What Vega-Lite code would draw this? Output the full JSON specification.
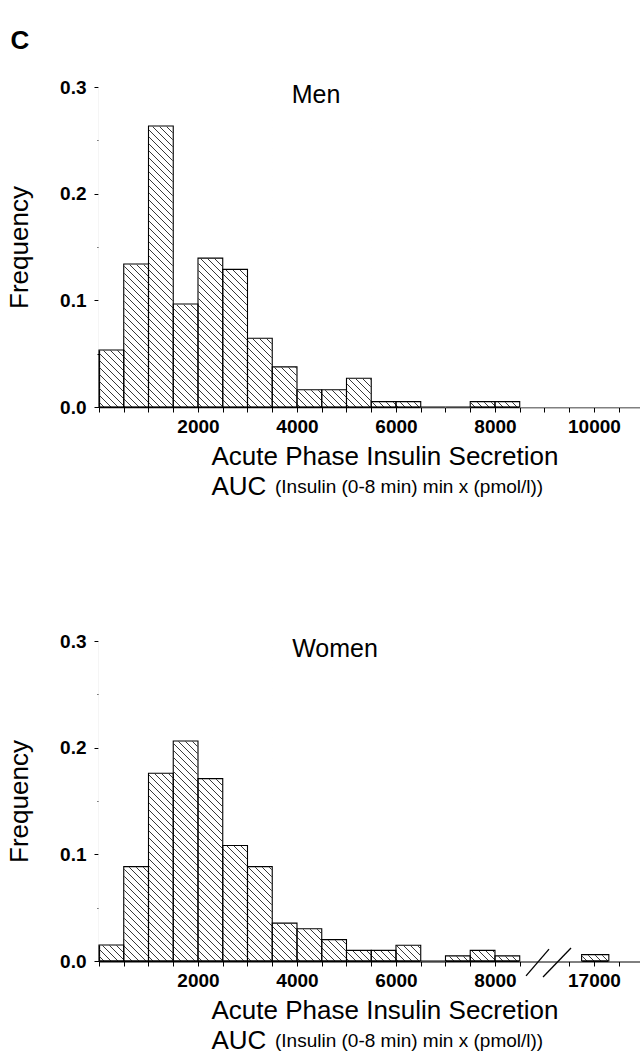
{
  "$schema": "https://vega.github.io/schema/vega-lite/v6.json",
  "background": "white",
  "padding": {"left": 6, "top": 28, "right": 0, "bottom": 0},
  "title": {"text": "C", "anchor": "start", "frame": "bounds", "fontSize": 26, "fontWeight": "bold", "font": "Liberation Sans", "color": "#000", "offset": 24, "dx": 4},
  "spacing": 234,
  "bounds": "flush",
  "config": {
    "view": {"stroke": null},
    "axis": {"zindex": 1, "grid": false, "domainColor": "#000", "tickColor": "#000", "labelColor": "#000", "titleColor": "#000", "labelFont": "Liberation Sans", "titleFont": "Liberation Sans", "titleFontWeight": "normal", "labelFontWeight": "bold", "labelFontSize": 19, "titleFontSize": 26, "labelOverlap": false, "labelFlush": false, "tickCount": 100},
    "point": {"shape": "M-5.95,-1.62l3.24,3.24m-3.17,-3.24l3.24,3.24m-3.17,-3.24l3.24,3.24m-3.17,-3.24l3.24,3.24m-3.17,-3.24l3.24,3.24m-3.17,-3.24l3.24,3.24m-3.17,-3.24l3.24,3.24m-3.17,-3.24l3.24,3.24m-3.17,-3.24l3.24,3.24m-3.17,-3.24l3.24,3.24m-3.17,-3.24l3.24,3.24m-3.17,-3.24l3.24,3.24m-3.17,-3.24l3.24,3.24m-3.17,-3.24l3.24,3.24m-3.17,-3.24l3.24,3.24m-3.17,-3.24l3.24,3.24m-3.17,-3.24l3.24,3.24m-3.17,-3.24l3.24,3.24m-3.17,-3.24l3.24,3.24m-3.17,-3.24l3.24,3.24m-3.17,-3.24l3.24,3.24m-3.17,-3.24l3.24,3.24m-3.17,-3.24l3.24,3.24m-3.17,-3.24l3.24,3.24m-3.17,-3.24l3.24,3.24m-3.17,-3.24l3.24,3.24m-3.17,-3.24l3.24,3.24m-3.17,-3.24l3.24,3.24m-3.17,-3.24l3.24,3.24m-3.17,-3.24l3.24,3.24m-3.17,-3.24l3.24,3.24m-3.17,-3.24l3.24,3.24m-3.17,-3.24l3.24,3.24m-3.17,-3.24l3.24,3.24m-3.17,-3.24l3.24,3.24m-3.17,-3.24l3.24,3.24m-3.17,-3.24l3.24,3.24m-3.17,-3.24l3.24,3.24m-3.17,-3.24l3.24,3.24m-3.17,-3.24l3.24,3.24m-3.17,-3.24l3.24,3.24m-3.17,-3.24l3.24,3.24m-3.17,-3.24l3.24,3.24m-3.17,-3.24l3.24,3.24m-3.17,-3.24l3.24,3.24m-3.17,-3.24l3.24,3.24m-3.17,-3.24l3.24,3.24m-3.17,-3.24l3.24,3.24m-3.17,-3.24l3.24,3.24m-3.17,-3.24l3.24,3.24m-3.17,-3.24l3.24,3.24m-3.17,-3.24l3.24,3.24m-3.17,-3.24l3.24,3.24m-3.17,-3.24l3.24,3.24m-3.17,-3.24l3.24,3.24m-3.17,-3.24l3.24,3.24m-3.17,-3.24l3.24,3.24m-3.17,-3.24l3.24,3.24m-3.17,-3.24l3.24,3.24m-3.17,-3.24l3.24,3.24m-3.17,-3.24l3.24,3.24m-3.17,-3.24l3.24,3.24m-3.17,-3.24l3.24,3.24m-3.17,-3.24l3.24,3.24m-3.17,-3.24l3.24,3.24m-3.17,-3.24l3.24,3.24m-3.17,-3.24l3.24,3.24m-3.17,-3.24l3.24,3.24m-3.17,-3.24l3.24,3.24m-3.17,-3.24l3.24,3.24m-3.17,-3.24l3.24,3.24m-3.17,-3.24l3.24,3.24m-3.17,-3.24l3.24,3.24m-3.17,-3.24l3.24,3.24m-3.17,-3.24l3.24,3.24m-3.17,-3.24l3.24,3.24m-3.17,-3.24l3.24,3.24m-3.17,-3.24l3.24,3.24m-3.17,-3.24l3.24,3.24m-3.17,-3.24l3.24,3.24m-3.17,-3.24l3.24,3.24m-3.17,-3.24l3.24,3.24m-3.17,-3.24l3.24,3.24m-3.17,-3.24l3.24,3.24m-3.17,-3.24l3.24,3.24m-3.17,-3.24l3.24,3.24m-3.17,-3.24l3.24,3.24m-3.17,-3.24l3.24,3.24m-3.17,-3.24l3.24,3.24m-3.17,-3.24l3.24,3.24m-3.17,-3.24l3.24,3.24m-3.17,-3.24l3.24,3.24m-3.17,-3.24l3.24,3.24m-3.17,-3.24l3.24,3.24m-3.17,-3.24l3.24,3.24m-3.17,-3.24l3.24,3.24m-3.17,-3.24l3.24,3.24m-3.17,-3.24l3.24,3.24m-3.17,-3.24l3.24,3.24m-3.17,-3.24l3.24,3.24m-3.17,-3.24l3.24,3.24m-3.17,-3.24l3.24,3.24m-3.17,-3.24l3.24,3.24m-3.17,-3.24l3.24,3.24m-3.17,-3.24l3.24,3.24m-3.17,-3.24l3.24,3.24m-3.17,-3.24l3.24,3.24m-3.17,-3.24l3.24,3.24m-3.17,-3.24l3.24,3.24m-3.17,-3.24l3.24,3.24m-3.17,-3.24l3.24,3.24m-3.17,-3.24l3.24,3.24m-3.17,-3.24l3.24,3.24m-3.17,-3.24l3.24,3.24m-3.17,-3.24l3.24,3.24m-3.17,-3.24l3.24,3.24m-3.17,-3.24l3.24,3.24m-3.17,-3.24l3.24,3.24m-3.17,-3.24l3.24,3.24m-3.17,-3.24l3.24,3.24m-3.17,-3.24l3.24,3.24m-3.17,-3.24l3.24,3.24m-3.17,-3.24l3.24,3.24m-3.17,-3.24l3.24,3.24m-3.17,-3.24l3.24,3.24m-3.17,-3.24l3.24,3.24m-3.17,-3.24l3.24,3.24", "size": 40000, "filled": false, "stroke": "#222", "strokeWidth": 0.9, "opacity": 1},
    "text": {"font": "Liberation Sans", "color": "#000"}
  },
  "vconcat": [
    {
      "width": 542,
      "height": 320,
      "title": {"text": "(Insulin (0-8 min) min x (pmol/l))", "orient": "bottom", "anchor": "start", "frame": "group", "dx": 176, "offset": -6, "baseline": "alphabetic", "fontSize": 19, "fontWeight": "normal", "font": "Liberation Sans", "color": "#000"},
      "data": {"values": [
        {"bin_start": 0, "bin_end": 500, "freq": 0.0535},
        {"bin_start": 500, "bin_end": 1000, "freq": 0.134},
        {"bin_start": 1000, "bin_end": 1500, "freq": 0.2634},
        {"bin_start": 1500, "bin_end": 2000, "freq": 0.0965},
        {"bin_start": 2000, "bin_end": 2500, "freq": 0.1396},
        {"bin_start": 2500, "bin_end": 3000, "freq": 0.129},
        {"bin_start": 3000, "bin_end": 3500, "freq": 0.0645},
        {"bin_start": 3500, "bin_end": 4000, "freq": 0.0376},
        {"bin_start": 4000, "bin_end": 4500, "freq": 0.0162},
        {"bin_start": 4500, "bin_end": 5000, "freq": 0.0162},
        {"bin_start": 5000, "bin_end": 5500, "freq": 0.0269},
        {"bin_start": 5500, "bin_end": 6000, "freq": 0.005},
        {"bin_start": 6000, "bin_end": 6500, "freq": 0.005},
        {"bin_start": 6500, "bin_end": 7000, "freq": 0},
        {"bin_start": 7000, "bin_end": 7500, "freq": 0},
        {"bin_start": 7500, "bin_end": 8000, "freq": 0.005},
        {"bin_start": 8000, "bin_end": 8500, "freq": 0.005}
      ]},
      "layer": [
        {
          "data": {"values": [{"label": "Men"}]},
          "mark": {"type": "point", "clip": true},
          "encoding": {"x": {"datum": 5475, "type": "quantitative"}, "y": {"datum": 0.15, "type": "quantitative"}}
        },
        {
          "mark": {"type": "rect", "fill": "white", "stroke": "white", "strokeWidth": 1.2},
          "encoding": {"x": {"field": "bin_start", "type": "quantitative"}, "x2": {"field": "bin_end"}, "y": {"field": "freq", "type": "quantitative"}, "y2": {"datum": 0.3}}
        },
        {
          "data": {"values": [{"label": "Men"}]},
          "mark": {"type": "rect", "fill": "white", "stroke": "white", "strokeWidth": 1.2},
          "encoding": {"x": {"datum": 8500, "type": "quantitative"}, "x2": {"datum": 10950}, "y": {"datum": 0, "type": "quantitative"}, "y2": {"datum": 0.3}}
        },
        {
          "mark": {"type": "rect", "fill": "transparent", "stroke": "#000", "strokeWidth": 1.1},
          "encoding": {
            "x": {"field": "bin_start", "type": "quantitative",
              "scale": {"domain": [0, 10950], "nice": false, "zero": false},
              "axis": {"values": [0, 500, 1000, 1500, 2000, 2500, 3000, 3500, 4000, 4500, 5000, 5500, 6000, 6500, 7000, 7500, 8000, 8500, 9000, 9500, 10000, 10500],
                "format": "d", "labelExpr": "indexof([2000, 4000, 6000, 8000, 10000], datum.value) >= 0 ? datum.label : ''",
                "tickSize": 5, "tickWidth": 1, "domainWidth": 1.5, "labelPadding": 5,
                "title": ["Acute Phase Insulin Secretion", "AUC"], "titleAlign": "left", "titleX": 112, "titlePadding": 7, "titleLineHeight": 30}},
            "x2": {"field": "bin_end"},
            "y": {"field": "freq", "type": "quantitative",
              "scale": {"domain": [0, 0.3], "nice": false, "zero": true},
              "axis": {"values": [0, 0.05, 0.1, 0.15, 0.2, 0.25, 0.3], "format": ".1f",
                "labelExpr": "datum.value == 0 || datum.value == 0.1 || datum.value == 0.2 || datum.value == 0.3 ? datum.label : ''",
                "tickSize": {"condition": {"test": "datum.value == 0 || datum.value == 0.1 || datum.value == 0.2 || datum.value == 0.3", "value": 5}, "value": 2},
                "domainWidth": 1.2, "labelPadding": 8, "title": "Frequency", "titlePadding": 27}},
            "y2": {"datum": 0}
          }
        },
        {
          "data": {"values": [{"label": "Men"}]},
          "mark": {"type": "text", "fontSize": 25, "baseline": "alphabetic", "align": "center"},
          "encoding": {"x": {"datum": 4384, "type": "quantitative"}, "y": {"datum": 0.285, "type": "quantitative"}, "text": {"field": "label"}}
        }
      ]
    },
    {
      "width": 542,
      "height": 320,
      "title": {"text": "(Insulin (0-8 min) min x (pmol/l))", "orient": "bottom", "anchor": "start", "frame": "group", "dx": 176, "offset": -6, "baseline": "alphabetic", "fontSize": 19, "fontWeight": "normal", "font": "Liberation Sans", "color": "#000"},
      "data": {"values": [
        {"bin_start": 0, "bin_end": 500, "freq": 0.015},
        {"bin_start": 500, "bin_end": 1000, "freq": 0.0885},
        {"bin_start": 1000, "bin_end": 1500, "freq": 0.176},
        {"bin_start": 1500, "bin_end": 2000, "freq": 0.2063},
        {"bin_start": 2000, "bin_end": 2500, "freq": 0.171},
        {"bin_start": 2500, "bin_end": 3000, "freq": 0.1083},
        {"bin_start": 3000, "bin_end": 3500, "freq": 0.0885},
        {"bin_start": 3500, "bin_end": 4000, "freq": 0.0355},
        {"bin_start": 4000, "bin_end": 4500, "freq": 0.0303},
        {"bin_start": 4500, "bin_end": 5000, "freq": 0.02},
        {"bin_start": 5000, "bin_end": 5500, "freq": 0.01},
        {"bin_start": 5500, "bin_end": 6000, "freq": 0.01},
        {"bin_start": 6000, "bin_end": 6500, "freq": 0.0148},
        {"bin_start": 6500, "bin_end": 7000, "freq": 0},
        {"bin_start": 7000, "bin_end": 7500, "freq": 0.0048},
        {"bin_start": 7500, "bin_end": 8000, "freq": 0.01},
        {"bin_start": 8000, "bin_end": 8500, "freq": 0.0048},
        {"bin_start": 16750, "bin_end": 17300, "freq": 0.006}
      ]},
      "layer": [
        {
          "data": {"values": [{"label": "Women"}]},
          "mark": {"type": "point", "clip": true},
          "encoding": {"x": {"datum": 5475, "type": "quantitative"}, "y": {"datum": 0.15, "type": "quantitative"}}
        },
        {
          "mark": {"type": "rect", "fill": "white", "stroke": "white", "strokeWidth": 1.2},
          "encoding": {"x": {"field": "bin_start", "type": "quantitative"}, "x2": {"field": "bin_end"}, "y": {"field": "freq", "type": "quantitative"}, "y2": {"datum": 0.3}}
        },
        {
          "data": {"values": [{"label": "Women"}]},
          "mark": {"type": "rect", "fill": "white", "stroke": "white", "strokeWidth": 1.2},
          "encoding": {"x": {"datum": 8500, "type": "quantitative"}, "x2": {"datum": 16750}, "y": {"datum": 0, "type": "quantitative"}, "y2": {"datum": 0.3}}
        },
        {
          "data": {"values": [{"label": "Women"}]},
          "mark": {"type": "rect", "fill": "white", "stroke": "white", "strokeWidth": 1.2},
          "encoding": {"x": {"datum": 17300, "type": "quantitative"}, "x2": {"datum": 17950}, "y": {"datum": 0, "type": "quantitative"}, "y2": {"datum": 0.3}}
        },
        {
          "mark": {"type": "rect", "fill": "transparent", "stroke": "#000", "strokeWidth": 1.1},
          "encoding": {
            "x": {"field": "bin_start", "type": "quantitative",
              "scale": {"domain": [0, 8500, 16500, 17950], "range": [0, 420.73, 470.23, 542], "nice": false, "zero": false},
              "axis": {"values": [0, 500, 1000, 1500, 2000, 2500, 3000, 3500, 4000, 4500, 5000, 5500, 6000, 6500, 7000, 7500, 8000, 8500, 16500, 17000, 17500],
                "format": "d", "labelExpr": "indexof([2000, 4000, 6000, 8000, 17000], datum.value) >= 0 ? datum.label : ''",
                "tickSize": 5, "tickWidth": 1, "domainWidth": 2, "labelPadding": 5,
                "title": ["Acute Phase Insulin Secretion", "AUC"], "titleAlign": "left", "titleX": 112, "titlePadding": 7, "titleLineHeight": 30}},
            "x2": {"field": "bin_end"},
            "y": {"field": "freq", "type": "quantitative",
              "scale": {"domain": [0, 0.3], "nice": false, "zero": true},
              "axis": {"values": [0, 0.05, 0.1, 0.15, 0.2, 0.25, 0.3], "format": ".1f",
                "labelExpr": "datum.value == 0 || datum.value == 0.1 || datum.value == 0.2 || datum.value == 0.3 ? datum.label : ''",
                "tickSize": {"condition": {"test": "datum.value == 0 || datum.value == 0.1 || datum.value == 0.2 || datum.value == 0.3", "value": 5}, "value": 2},
                "domainWidth": 1.2, "labelPadding": 8, "title": "Frequency", "titlePadding": 27}},
            "y2": {"datum": 0}
          }
        },
        {
          "data": {"values": [
            {"x_from": 9518, "x_to": 13235, "y_from": -0.014, "y_to": 0.0112},
            {"x_from": 12266, "x_to": 16536, "y_from": -0.015, "y_to": 0.0122}
          ]},
          "mark": {"type": "rule", "stroke": "#000", "strokeWidth": 1.3},
          "encoding": {"x": {"field": "x_from", "type": "quantitative"}, "x2": {"field": "x_to"}, "y": {"field": "y_from", "type": "quantitative"}, "y2": {"field": "y_to"}}
        },
        {
          "data": {"values": [{"label": "Women"}]},
          "mark": {"type": "text", "fontSize": 25, "baseline": "alphabetic", "align": "center"},
          "encoding": {"x": {"datum": 4768, "type": "quantitative"}, "y": {"datum": 0.2854, "type": "quantitative"}, "text": {"field": "label"}}
        }
      ]
    }
  ]
}
